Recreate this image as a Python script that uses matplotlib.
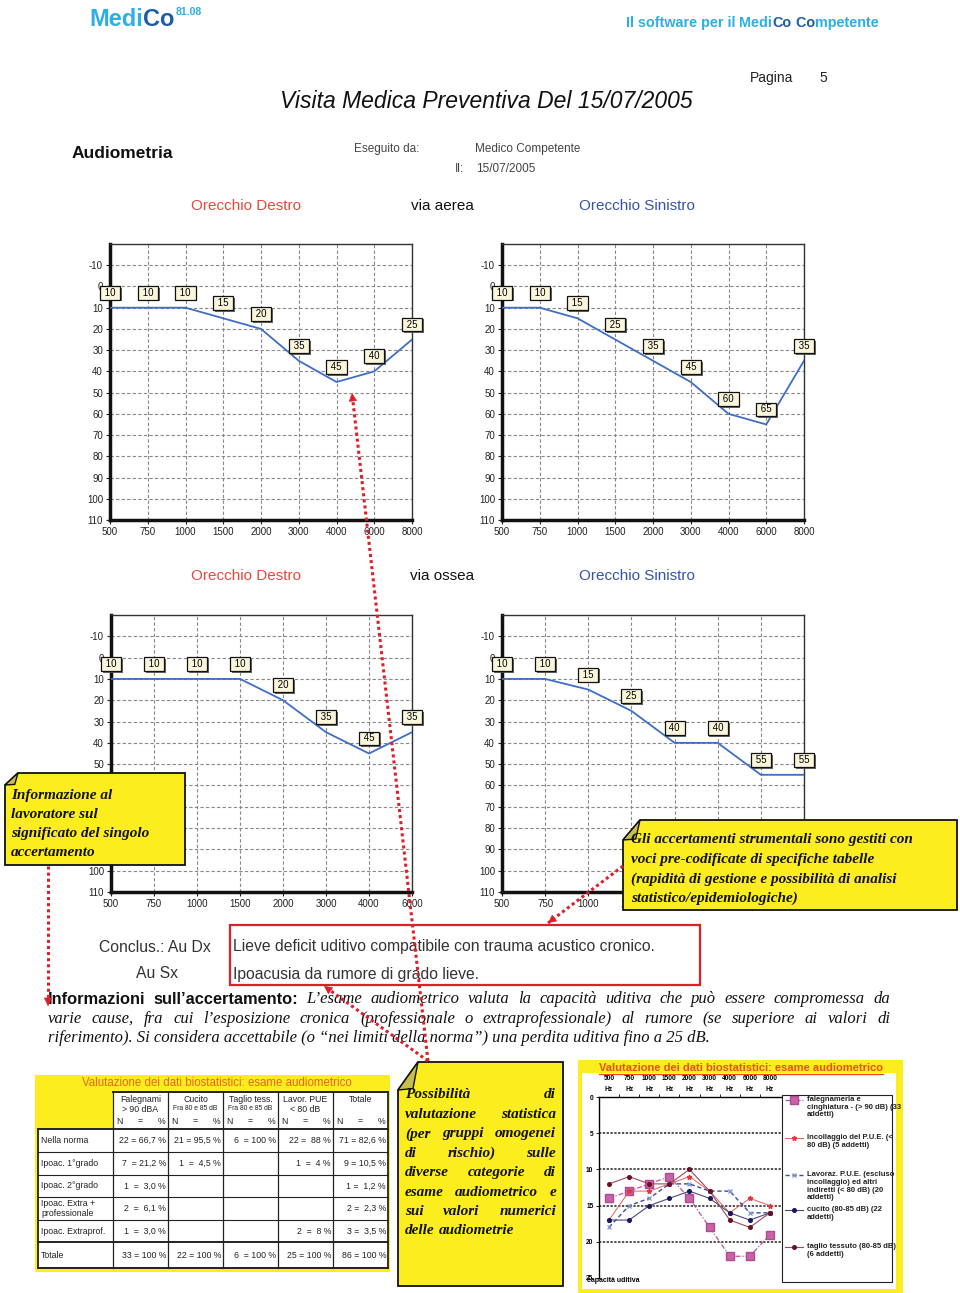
import numpy as np
import matplotlib
matplotlib.use('Agg')
import matplotlib.pyplot as plt
from matplotlib.patches import Rectangle, Polygon
import matplotlib.patheffects as pe

plt.rcParams['axes.unicode_minus'] = False

W, H = 960, 1293

# audiogram values (dB) read from the page
freq_air = ['500', '750', '1000', '1500', '2000', '3000', '4000', '6000', '8000']
freq_bone = ['500', '750', '1000', '1500', '2000', '3000', '4000', '6000']
dx_air = [10, 10, 10, 15, 20, 35, 45, 40, 25]
sx_air = [10, 10, 15, 25, 35, 45, 60, 65, 35]
dx_bone = [10, 10, 10, 10, 20, 35, 45, 35]
sx_bone = [10, 10, 15, 25, 40, 40, 55, 55]

# biostatistic chart
hz_labels = ['500', '750', '1000', '1500', '2000', '3000', '4000', '6000', '8000']
falegnameria = [14, 13, 12, 11, 14, 18, 22, 22, 19]
incollaggio = [17, 13, 13, 12, 11, 13, 16, 14, 15]
lavoraz = [18, 15, 14, 12, 12, 13, 13, 16, 16]
cucito = [17, 17, 15, 14, 13, 14, 16, 17, 16]
taglio = [12, 11, 12, 12, 10, 13, 17, 18, 16]
series_labels = ['falegnameria e\ncinghiatura - (> 90 dB) (33\naddetti)',
                 'Incollaggio del P.U.E. (<\n80 dB) (5 addetti)',
                 'Lavoraz. P.U.E. (escluso\nincollaggio) ed altri\nindiretti (< 80 dB) (20\naddetti)',
                 'cucito (80-85 dB) (22\naddetti)',
                 'taglio tessuto (80-85 dB)\n(6 addetti)']

# table
tab_head = ['Falegnami', 'Cucito', 'Taglio tess.', 'Lavor. PUE', 'Totale']
tab_sub = ['> 90 dBA', 'Fra 80 e 85 dB', 'Fra 80 e 85 dB', '< 80 dB', '']
tab_rows = ['Nella norma', 'Ipoac. 1°grado', 'Ipoac. 2°grado',
            'Ipoac. Extra +\nprofessionale', 'Ipoac. Extraprof.', 'Totale']
tab_cells = [['22 = 66,7 %', '21 = 95,5 %', '6  = 100 %', '22 =  88 %', '71 = 82,6 %'],
             ['7  = 21,2 %', '1  =  4,5 %', '', '1  =  4 %', '9 = 10,5 %'],
             ['1  =  3,0 %', '', '', '', '1 =  1,2 %'],
             ['2  =  6,1 %', '', '', '', '2 =  2,3 %'],
             ['1  =  3,0 %', '', '', '2  =  8 %', '3 =  3,5 %'],
             ['33 = 100 %', '22 = 100 %', '6  = 100 %', '25 = 100 %', '86 = 100 %']]

YEL = '#fcee1e'
RED = '#dd1f2a'
CYAN = '#2eaee6'
DBLUE = '#1d5ca8'

fig = plt.figure(figsize=(W / 100, H / 100), dpi=100)
R = fig.canvas.get_renderer()


def overlay(z):
    ax = fig.add_axes([0, 0, 1, 1], zorder=z)
    ax.set_xlim(0, W)
    ax.set_ylim(H, 0)
    ax.axis('off')
    ax.patch.set_visible(False)
    return ax


def px_axes(x0, y0, x1, y1, z=2):
    return fig.add_axes([x0 / W, 1 - y1 / H, (x1 - x0) / W, (y1 - y0) / H], zorder=z)


bg = overlay(0)
fg = overlay(10)


def width(t):
    return t.get_window_extent(R).width


def pieces(ax, x, y, parts, **kw):
    for s, c in parts:
        t = ax.text(x, y, s, color=c, va='center', ha='left', **kw)
        x += width(t)
    return x


def words_line(ax, words, x0, x1, y, justify=True, **kw):
    # words: list of (text, extra props)
    ts = []
    for w, k in words:
        p = dict(kw)
        p.update(k)
        ts.append(ax.text(x0, y, w, va='center', ha='left', **p))
    ws = [width(t) for t in ts]
    if justify and len(ts) > 1:
        gap = (x1 - x0 - sum(ws)) / (len(ts) - 1)
    else:
        gap = kw.get('fontsize', 10) * 0.25 * 100 / 72
    x = x0
    for t, w in zip(ts, ws):
        t.set_x(x)
        x += w + gap


def serif_line(ax, s, x0, x1, y, justify=True, **kw):
    words_line(ax, [(w, {}) for w in s.split()], x0, x1, y, justify, **kw)


def note_box(ax, x0, y0, x1, y1, dx, dy):
    ax.add_patch(Polygon([(x0, y0 + dy), (x0 + dx, y0), (x1, y0), (x1, y1), (x0, y1)],
                         closed=True, fc=YEL, ec='#111', lw=1.3, zorder=3))
    ax.add_patch(Polygon([(x0, y0 + dy), (x0 + dx, y0), (x0 + dx * 0.75, y0 + dy * 0.95)],
                         closed=True, fc='#c8bf4a', ec='#111', lw=1.0, zorder=4))


def red_arrow(ax, start, end):
    ax.plot([start[0], end[0]], [start[1], end[1]], color=RED, lw=2.2,
            ls=(0, (1, 1)), zorder=6)
    v = np.array(end) - np.array(start)
    v = v / np.hypot(*v)
    ax.annotate('', xy=end, xytext=tuple(np.array(end) - v * 4),
                arrowprops=dict(arrowstyle='-|>', color=RED, lw=0.5, mutation_scale=13),
                zorder=7)


# ---------------- header ----------------
logo = dict(family=['Liberation Sans Narrow', 'Liberation Sans'], fontweight='bold')
xend = pieces(bg, 89, 19, [('Medi', CYAN), ('Co', DBLUE)], fontsize=17, **logo)
bg.text(xend + 1, 12, '81.08', color=CYAN, fontsize=7.5, va='center', **logo)
pieces(bg, 626, 23, [('Il software per il ', CYAN), ('Medi', CYAN), ('Co', DBLUE),
                     (' Co', DBLUE), ('mpetente', CYAN)], fontsize=10.4, **logo)

sans = dict(family='Liberation Sans')
bg.text(750, 78, 'Pagina', fontsize=10, va='center', color='#222', **sans)
bg.text(819, 78, '5', fontsize=10, va='center', color='#222', **sans)
bg.text(486, 101, 'Visita Medica Preventiva Del 15/07/2005', fontsize=16.5, style='italic',
        ha='center', va='center', color='#111', **sans)
bg.text(72, 153, 'Audiometria', fontsize=12.5, fontweight='bold', va='center', color='#111', **sans)
narrow = dict(family=['Liberation Sans Narrow', 'Liberation Sans'], color='#444', fontsize=8.5, va='center')
bg.text(354, 149, 'Eseguito da:', **narrow)
bg.text(475, 149, 'Medico Competente', **narrow)
bg.text(455, 169, 'Il:', **narrow)
bg.text(476, 169, '15/07/2005', **narrow)

for yy, via in [(206, 'via aerea'), (576, 'via ossea')]:
    bg.text(246, yy, 'Orecchio Destro', color='#e8483c', fontsize=11, ha='center', va='center', **sans)
    bg.text(442, yy, via, color='#111', fontsize=11, ha='center', va='center', **sans)
    bg.text(637, yy, 'Orecchio Sinistro', color='#3552b0', fontsize=11, ha='center', va='center', **sans)


# ---------------- audiograms ----------------
def audiogram(rect, freqs, vals):
    ax = px_axes(*rect)
    x = np.arange(len(freqs))
    ax.plot(x, vals, color='#3f6ec4', lw=1.3, zorder=3)
    for xi, v in zip(x, vals):
        t = ax.annotate(f' {v} ', (xi, v), xytext=(0, 10.8), textcoords='offset points',
                        ha='center', va='center', fontsize=7, family='Liberation Sans',
                        bbox=dict(boxstyle='square,pad=0.2', fc='#fbf5dc', ec='#111', lw=0.9),
                        zorder=4, annotation_clip=False)
        t.get_bbox_patch().set_path_effects([pe.SimplePatchShadow(offset=(1.3, -1.3),
                                                                  shadow_rgbFace='#555', alpha=0.9),
                                             pe.Normal()])
    ax.set_xlim(0, len(freqs) - 1)
    ax.set_ylim(110, -20)
    ax.set_xticks(x, freqs)
    ax.set_yticks(np.arange(-10, 111, 10))
    ax.grid(True, ls=(0, (3, 2)), color='#888', lw=0.8)
    for s in ['left', 'bottom']:
        ax.spines[s].set_linewidth(2.5)
        ax.spines[s].set_color('#111')
    for s in ['top', 'right']:
        ax.spines[s].set_linewidth(1.0)
        ax.spines[s].set_color('#333')
    ax.tick_params(labelsize=7, length=3, width=0.8, colors='#222', pad=2)
    for lab in ax.get_xticklabels() + ax.get_yticklabels():
        lab.set_family('Liberation Sans')
    return ax


audiogram((110, 244, 412, 520), freq_air, dx_air)
audiogram((502, 244, 804, 520), freq_air, sx_air)
audiogram((111, 615, 412, 892), freq_bone, dx_bone)
audiogram((502, 615, 804, 892), freq_bone, sx_bone)

# ---------------- note boxes ----------------
note_box(fg, 5, 773, 185, 865, 13, 12)
bi = dict(family='Liberation Serif', fontweight='bold', style='italic', fontsize=11, color='#111', zorder=5)
for yy, s in zip([795, 814, 833, 853], ['Informazione al', 'lavoratore sul',
                                         'significato del singolo', 'accertamento']):
    fg.text(11, yy, s, va='center', **bi)

note_box(fg, 623, 820, 957, 910, 17, 20)
for yy, s in zip([840, 859, 879, 898], ['Gli accertamenti strumentali sono gestiti con',
                                         'voci pre-codificate di specifiche tabelle',
                                         '(rapidità di gestione e possibilità di analisi',
                                         'statistico/epidemiologiche)']):
    fg.text(631, yy, s, va='center', **bi)

note_box(fg, 398, 1062, 563, 1286, 20, 28)
mid_lines = ['Possibilità di', 'valutazione statistica', '(per gruppi omogenei',
             'di rischio) sulle', 'diverse categorie di', 'esame audiometrico e',
             'sui valori numerici', 'delle audiometrie']
for i, s in enumerate(mid_lines):
    serif_line(fg, s, 405, 556, 1095 + i * 19.4, justify=i < len(mid_lines) - 1, **bi)

# ---------------- conclusions ----------------
grey = dict(family='Liberation Sans', fontsize=11.3, color='#333', va='center')
bg.text(211, 947, 'Conclus.: Au Dx', ha='right', **grey)
bg.text(178, 974, 'Au Sx', ha='right', **grey)
bg.text(233, 947, 'Lieve deficit uditivo compatibile con trauma acustico cronico.', **grey)
bg.text(233, 974, 'Ipoacusia da rumore di grado lieve.', **grey)
bg.add_patch(Rectangle((230, 925), 470, 60, fill=False, ec=RED, lw=1.6))

ti = dict(family='Liberation Serif', style='italic', fontsize=12, color='#111')
bold_sans = {'family': 'Liberation Sans', 'fontweight': 'bold', 'style': 'normal', 'fontsize': 11.8}
line1 = [('Informazioni', bold_sans), ('sull’accertamento:', bold_sans)] + \
        [(w, {}) for w in 'L’esame audiometrico valuta la capacità uditiva che può essere compromessa da'.split()]
words_line(bg, line1, 48, 890, 999, True, **ti)
serif_line(bg, 'varie cause, fra cui l’esposizione cronica (professionale o extraprofessionale) al rumore (se superiore ai valori di',
           48, 890, 1019, True, **ti)
bg.text(48, 1038, 'riferimento). Si considera accettabile (o “nei limiti della norma”) una perdita uditiva fino a 25 dB.',
        va='center', **ti)

# ---------------- arrows ----------------
red_arrow(fg, (48, 866), (48, 1006))
red_arrow(fg, (428, 1061), (352, 393))
red_arrow(fg, (623, 866), (548, 923))
red_arrow(fg, (428, 1061), (324, 986))

# ---------------- table ----------------
bg.add_patch(Rectangle((35, 1075), 355, 197, fc=YEL, ec='none'))
bg.text(217, 1083, 'Valutazione dei dati biostatistici: esame audiometrico', color='#e8661a',
        fontsize=8.3, ha='center', va='center', **sans)
cx = [38, 113, 168, 223, 278, 333, 388]
ry = [1092, 1129, 1152, 1175, 1197, 1220, 1242, 1268]
bg.add_patch(Rectangle((cx[1], ry[0]), cx[-1] - cx[1], ry[1] - ry[0], fc='white', ec='none'))
bg.add_patch(Rectangle((cx[0], ry[1]), cx[-1] - cx[0], ry[-1] - ry[1], fc='white', ec='none'))
tf = dict(family='Liberation Sans', color='#222')
for j in range(5):
    xa, xb = cx[j + 1], cx[j + 2]
    xm = (xa + xb) / 2
    bg.text(xm, 1099, tab_head[j], fontsize=6.3, ha='center', va='center', **tf)
    if tab_sub[j]:
        fs = 4.9 if tab_sub[j].startswith('Fra') else 6.3
        bg.text(xm, 1109, tab_sub[j], fontsize=fs, ha='center', va='center', **tf)
    bg.text(xa + 3, 1121, 'N', fontsize=6.3, ha='left', va='center', **tf)
    bg.text(xm, 1121, '=', fontsize=6.3, ha='center', va='center', **tf)
    bg.text(xb - 3, 1121, '%', fontsize=6.3, ha='right', va='center', **tf)
for i, lab in enumerate(tab_rows):
    ym = (ry[i + 1] + ry[i + 2]) / 2
    bg.text(cx[0] + 3, ym, lab, fontsize=6.3, ha='left', va='center', linespacing=1.0, **tf)
    for j, c in enumerate(tab_cells[i]):
        if c:
            bg.text(cx[j + 2] - 2, ym, c, fontsize=6.3, ha='right', va='center', **tf)
for k, xv in enumerate(cx):
    top = ry[0] if k > 0 else ry[1]
    bg.plot([xv, xv], [top, ry[-1]], color='#222', lw=1.3 if k in (0, 6) else 0.9)
for k, yv in enumerate(ry):
    left = cx[1] if k == 0 else cx[0]
    bg.plot([left, cx[-1]], [yv, yv], color='#222', lw=1.4 if k in (0, 1, 6, 7) else 0.8)

# ---------------- biostatistic chart ----------------
bg.add_patch(Rectangle((578, 1060), 325, 233, fc=YEL, ec='none'))
bg.add_patch(Rectangle((582, 1073), 314, 216, fc='white', ec='none'))
tt = bg.text(741, 1068, 'Valutazione dei dati biostatistici: esame audiometrico', color='#e8501a',
             fontsize=8, fontweight='bold', ha='center', va='center', **sans)
tw = width(tt)
bg.plot([741 - tw / 2, 741 + tw / 2], [1073.5, 1073.5], color='#e8501a', lw=1)

styles = [dict(color='#c0529c', lw=0.9, ls=(0, (4, 1.5, 1, 1.5)), marker='s', ms=5.5,
               mfc='#c763a8', mec='#b04a90'),
          dict(color='#e46060', lw=0.7, ls='-', marker='*', ms=3.5, mfc='#e03838', mec='#e03838'),
          dict(color='#3a4aa0', lw=1.0, ls=(0, (3, 2)), marker='x', ms=3.5, mec='#7b92d6', mew=0.9),
          dict(color='#4a4a80', lw=0.8, ls='-', marker='o', ms=2.6, mfc='#181860', mec='#181860'),
          dict(color='#a04a5c', lw=0.8, ls='-', marker='o', ms=2.6, mfc='#6a1020', mec='#6a1020')]
series = [falegnameria, incollaggio, lavoraz, cucito, taglio]

sx = px_axes(599, 1097, 782, 1278, z=2)
sx.patch.set_visible(False)
xs = np.arange(len(hz_labels))
for yv in [5, 10, 15, 20]:
    sx.axhline(yv, color='#222', lw=1.1, ls=(0, (1.5, 1)), zorder=1)
for vals, st in zip(series, styles):
    sx.plot(xs, vals, zorder=3, **st)
sx.set_xlim(-0.5, 8.6)
sx.set_ylim(25, 0)
sx.xaxis.tick_top()
sx.set_xticks(xs, [f'{h}\nHz' for h in hz_labels])
sx.set_xticks(xs[:-1] + 0.5, minor=True)
sx.tick_params(axis='x', which='major', length=0, labelsize=4.8, pad=3)
sx.tick_params(axis='x', which='minor', length=2, width=0.6, direction='out')
sx.set_yticks([0, 5, 10, 15, 20, 25])
sx.tick_params(axis='y', labelsize=4.8, length=2, width=0.6, pad=2)
for lab in sx.get_xticklabels() + sx.get_yticklabels():
    lab.set_fontweight('bold')
    lab.set_family('Liberation Sans')
for lab in sx.get_xticklabels():
    lab.set_linespacing(1.8)
sx.spines['bottom'].set_visible(False)
sx.spines['right'].set_visible(False)
sx.spines['left'].set_linewidth(1.0)
sx.spines['top'].set_linewidth(1.0)
fg.text(587, 1281, 'capacità uditiva', fontsize=5, fontweight='bold', va='center', **sans)

# legend
leg_box = Rectangle((782, 1095), 110, 187, fc='white', ec='#222', lw=0.8, zorder=2)
fg.add_patch(leg_box)
leg_y = [1100, 1138, 1175, 1210, 1247]
for st, lab, ly in zip(styles, series_labels, leg_y):
    fg.plot([785, 794, 803], [ly, ly, ly], markevery=[1], zorder=3, **st)
    t = fg.text(807, ly - 4, lab, fontsize=5.5, fontweight='bold', va='top', ha='left',
                linespacing=1.15, color='#222', zorder=3, **sans)
    t.set_clip_path(leg_box)

fig.savefig('out.png', dpi=100)
